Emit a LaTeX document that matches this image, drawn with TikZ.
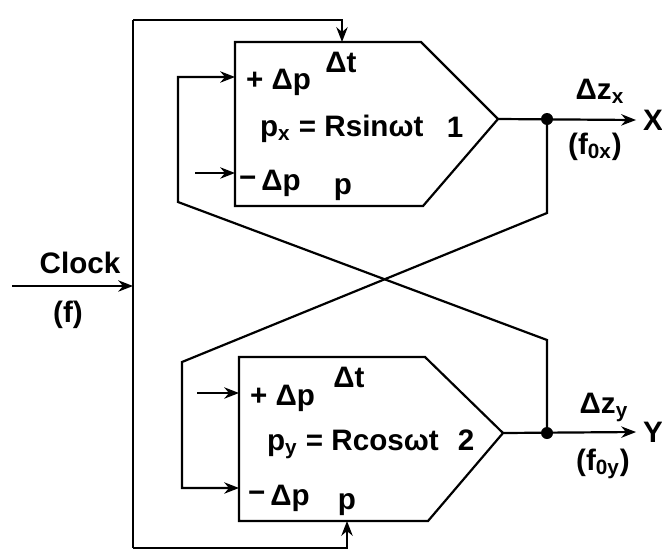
\documentclass[tikz,border=0pt]{standalone}
\usepackage{fontspec}
\setmainfont{Liberation Sans}
\usetikzlibrary{arrows.meta}

\begin{document}
\begin{tikzpicture}[x=0.5pt, y=-0.5pt, line width=1.1pt,
	every node/.style={font=\bfseries\fontsize{14.8}{16}\selectfont, inner sep=0pt},
	lbl/.style={anchor=base west}, >={Stealth[length=2.6mm, width=2mm]}]
	\useasboundingbox (0,0) rectangle (662,557);
	% generator blocks
	\draw (235,42) -- (421,42) -- (498,119) -- (423,206) -- (235,206) -- cycle;
	\draw (239,357) -- (425,357) -- (503,433) -- (428,521) -- (239,521) -- cycle;
	\coordinate (g1) at (498,119);
	\coordinate (g1t) at (342,42);
	\coordinate (g1pp) at (235,77);
	\coordinate (g1pm) at (235,173);
	\coordinate (g2) at (503,433);
	\coordinate (g2p) at (347,521);
	\coordinate (g2pp) at (239,393);
	\coordinate (g2pm) at (239,488);
	\coordinate (d1) at (547,119);
	\coordinate (d2) at (547,433);
	\coordinate (s1) at (195,173);
	\coordinate (s2) at (197,393);
	\coordinate (tl) at (133,20);
	\coordinate (bl) at (133,548);
	\coordinate (clk) at (12,286);
	\coordinate (bus) at (133,286);
	% texts in block 1
	\node[anchor=base] (dt1) at (341,72) {Δt};
	\node[lbl] (pp1) at (245,89) {+ Δp};
	\node[lbl] (eq1) at (259,136) {p\textsubscript{x} = Rsinωt};
	\node[anchor=base] (n1) at (455,137) {1};
	\node[lbl] (pm1) at (238,190) {\raisebox{0.08em}{−}\,Δp};
	\node[anchor=base] (p1) at (343,194) {p};
	% texts in block 2
	\node[anchor=base] (dt2) at (349,387) {Δt};
	\node[lbl] (pp2) at (249,405) {+ Δp};
	\node[lbl] (eq2) at (266,450) {p\textsubscript{y} = Rcosωt};
	\node[anchor=base] (n2) at (466,450) {2};
	\node[lbl] (pm2) at (247,505) {\raisebox{0.08em}{−}\,Δp};
	\node[anchor=base] (p2) at (347,509) {p};
	% outputs
	\node[inner sep=3pt] (X) at (653,120) {X};
	\node[inner sep=3pt] (Y) at (653,432) {Y};
	\node[anchor=base] (dzx) at (600,99) {Δz\textsubscript{x}};
	\node[anchor=base] (f0x) at (595,154) {(f\textsubscript{0x})};
	\node[anchor=base] (dzy) at (604,413) {Δz\textsubscript{y}};
	\node[anchor=base] (f0y) at (603,470) {(f\textsubscript{0y})};
	\node[anchor=base] (clock) at (80,273) {Clock};
	\node[anchor=base] (f) at (68,322) {(f)};
	% connections
	\draw[->] (clk) -- (bus);
	\draw (tl) -- (bl);
	\draw[->] (tl) -| (g1t);
	\draw[->] (bl) -| (g2p);
	\draw[->] (g1) -- (X.west);
	\draw[->] (g2) -- (Y.west);
	\fill (d1) circle[radius=3pt];
	\fill (d2) circle[radius=3pt];
	\draw[->] (d2) -- (547,340) -- (178,202) |- (g1pp);
	\draw[->] (d1) -- (547,213) -- (182,362) |- (g2pm);
	\draw[->] (s1) -- (g1pm);
	\draw[->] (s2) -- (g2pp);
\end{tikzpicture}
\end{document}
